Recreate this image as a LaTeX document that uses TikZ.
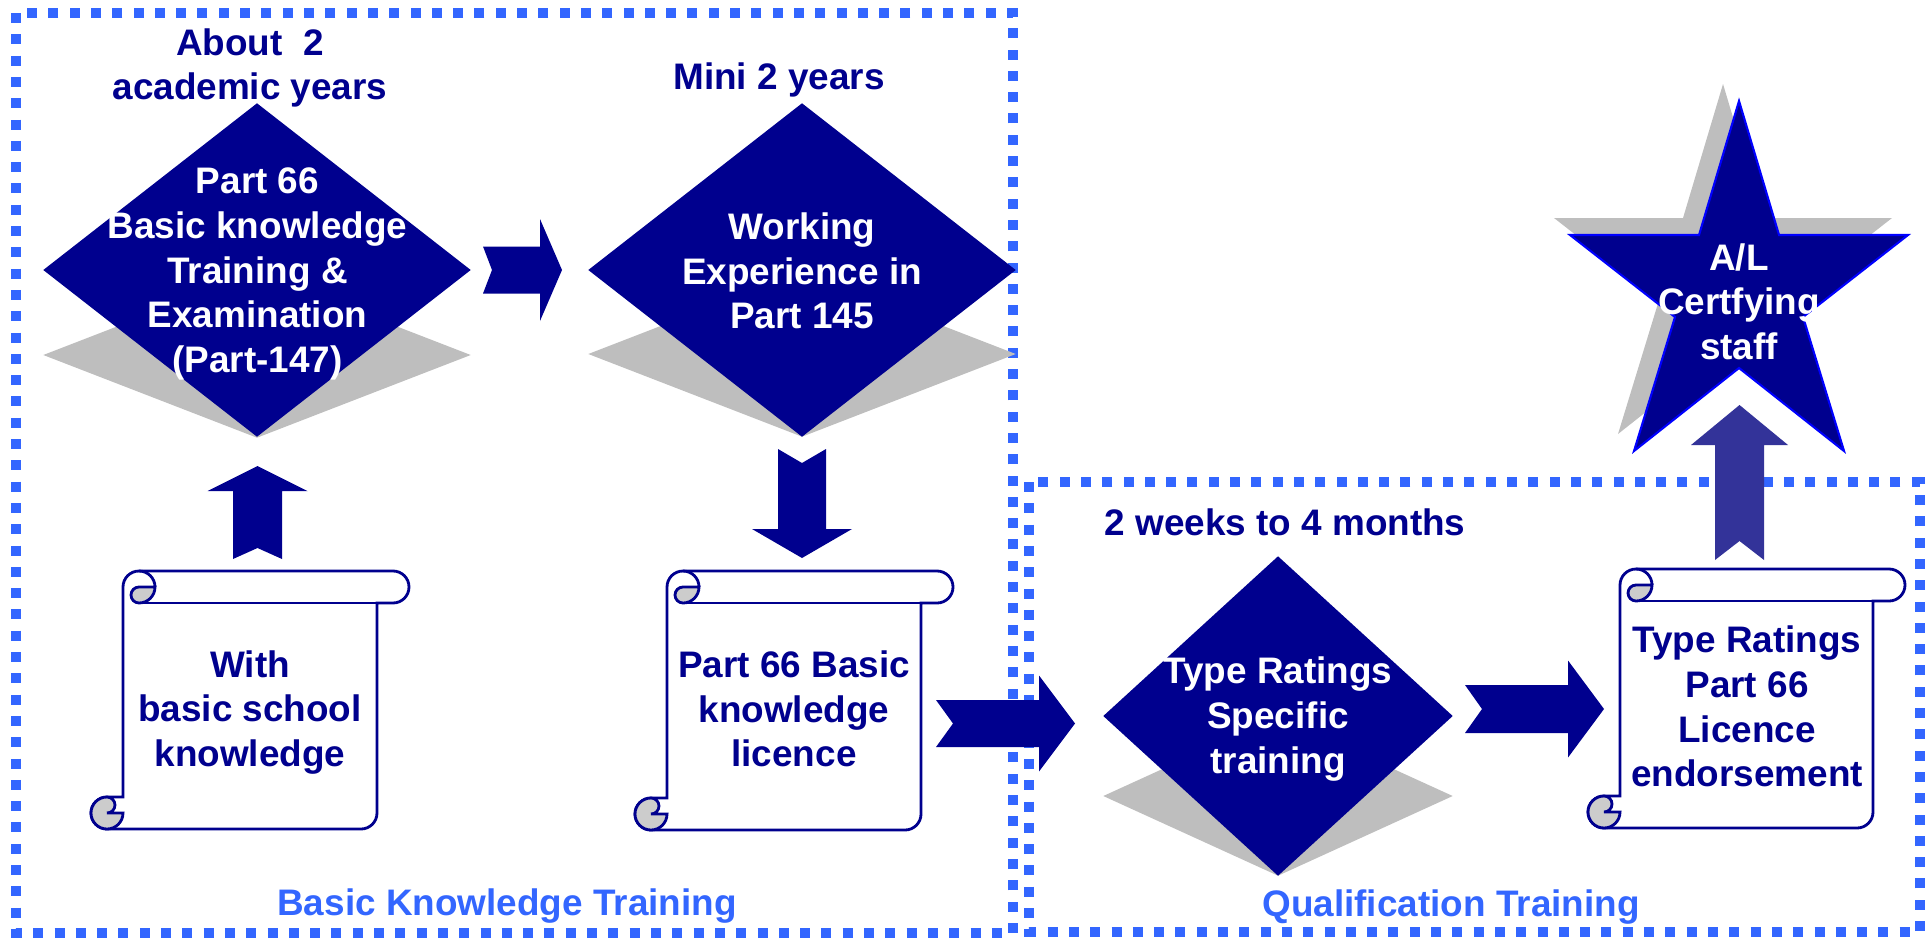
\documentclass[tikz,border=0pt]{standalone}
\usepackage{fontspec}
\setmainfont{Liberation Sans}
\usetikzlibrary{calc,shapes.geometric}

\definecolor{navyfill}{RGB}{0,0,142}
\definecolor{starline}{RGB}{0,0,255}
\definecolor{liftblue}{RGB}{51,51,153}
\definecolor{frameblue}{RGB}{51,102,255}
\definecolor{shadowgray}{RGB}{190,190,190}
\definecolor{curlgray}{RGB}{204,204,204}

\tikzset{
	boxtext/.style={font=\bfseries\fontsize{10.5}{12.7}\selectfont, align=center, inner sep=0pt},
	whitetext/.style={boxtext, text=white},
	navytext/.style={boxtext, text=navyfill},
	frametext/.style={boxtext, text=frameblue},
	diamondbox/.style={diamond, fill=navyfill, inner sep=0pt},
	shadowbox/.style={diamond, fill=shadowgray, inner sep=0pt},
	frameline/.style={draw=frameblue, line width=0.1cm, dash pattern=on 0.1cm off 0.113cm},
	scrollline/.style={draw=navyfill, line width=0.8pt},
}

\def\scroll(#1,#2)(#3,#4){%
	\filldraw[scrollline, fill=white] (#1+0.32,#4-0.32) -- (#1+0.32,#2+0.16) arc (180:270:0.16) -- (#3-0.16,#2) arc (270:450:0.16) -- (#3-0.32,#2+0.32) -- (#3-0.32,#4-0.16) arc (0:90:0.16) -- (#1+0.16,#4) arc (90:270:0.16) -- cycle;
	\draw[scrollline] (#1+0.48,#2+0.32) -- (#3-0.32,#2+0.32);
	\draw[scrollline] (#1+0.48,#2) arc (270:360:0.16);
	\filldraw[scrollline, fill=curlgray] (#1+0.64,#2+0.16) arc (0:90:0.16) arc (90:270:0.08) -- cycle;
	\filldraw[scrollline, fill=curlgray] (#1+0.32,#4-0.16) arc (0:270:0.16) arc (270:450:0.08) -- cycle;
}
\def\blockarrow[#1](#2)(#3)(#4:#5:#6:#7){%
	\fill[#1] ($(#2)!#4!90:(#3)$) -- ($(#2)!#7!(#3)$) -- ($(#2)!#4!-90:(#3)$) -- ($(#3)!#6!(#2)!#4!90:(#2)$) -- ($(#3)!#6!(#2)!#5!90:(#2)$) -- (#3) -- ($(#3)!#6!(#2)!#5!-90:(#2)$) -- ($(#3)!#6!(#2)!#4!-90:(#2)$) -- cycle;
}

\begin{document}
\begin{tikzpicture}[y=-1cm]
	%%%%% START %%%%%
	\useasboundingbox (0,0) rectangle (19.32,9.38);
	
	\draw[frameline] (0.16,0.13) rectangle (10.13,9.33);
	\draw[frameline] (10.29,4.82) rectangle (19.20,9.32);
	
	\node[shadowbox, minimum width=4.28cm, minimum height=1.66cm] (examshadow) at (2.57,3.55) {};
	\node[diamondbox, minimum width=4.28cm, minimum height=3.34cm] (exam) at (2.57,2.70) {};
	\node[shadowbox, minimum width=4.28cm, minimum height=1.66cm] (workshadow) at (8.02,3.54) {};
	\node[diamondbox, minimum width=4.28cm, minimum height=3.34cm] (work) at (8.02,2.70) {};
	\node[shadowbox, minimum width=3.50cm, minimum height=1.60cm] (typetrainshadow) at (12.78,7.96) {};
	\node[diamondbox, minimum width=3.50cm, minimum height=3.20cm] (typetrain) at (12.78,7.16) {};
	
	\fill[shadowgray, shift={(-0.16,-0.17)}] (17.39,1.01) -- (17.79,2.35) -- (19.08,2.35) -- (18.03,3.17) -- (18.44,4.51) -- (17.39,3.68) -- (16.34,4.51) -- (16.75,3.17) -- (15.70,2.35) -- (16.99,2.35) -- cycle;
	\filldraw[fill=navyfill, draw=starline, line width=0.6pt] (17.39,1.01) -- (17.79,2.35) -- (19.08,2.35) -- (18.03,3.17) -- (18.44,4.51) -- (17.39,3.68) -- (16.34,4.51) -- (16.75,3.17) -- (15.70,2.35) -- (16.99,2.35) -- cycle;
	
	\scroll(0.91,5.71)(4.09,8.29)
	\scroll(6.35,5.71)(9.53,8.30)
	\scroll(15.88,5.69)(19.05,8.28)
	
	\coordinate (examout) at (4.83,2.70);
	\coordinate (workin) at (5.62,2.70);
	\coordinate (schoolout) at (2.575,5.59);
	\coordinate (examin) at (2.575,4.66);
	\coordinate (workout) at (8.02,4.49);
	\coordinate (basiclicin) at (8.02,5.58);
	\coordinate (basiclicout) at (9.36,7.235);
	\coordinate (typetrainin) at (10.75,7.235);
	\coordinate (typetrainout) at (14.65,7.09);
	\coordinate (typelicin) at (16.04,7.09);
	\coordinate (typelicout) at (17.395,5.60);
	\coordinate (certin) at (17.395,4.05);
	
	\blockarrow[navyfill](examout)(workin)(0.235cm:0.51cm:0.22cm:0.09cm)
	\blockarrow[navyfill](schoolout)(examin)(0.245cm:0.50cm:0.25cm:0.11cm)
	\blockarrow[navyfill](workout)(basiclicin)(0.24cm:0.50cm:0.29cm:0.14cm)
	\blockarrow[navyfill](basiclicout)(typetrainin)(0.235cm:0.48cm:0.36cm:0.17cm)
	\blockarrow[navyfill](typetrainout)(typelicin)(0.24cm:0.485cm:0.36cm:0.17cm)
	\blockarrow[liftblue](typelicout)(certin)(0.245cm:0.485cm:0.40cm:0.19cm)
	
	\node[whitetext] (examtext) at (2.575,2.74) {Part 66\\Basic knowledge\\Training \&\\Examination\\(Part-147)};
	\node[whitetext] (worktext) at (8.02,2.71) {Working\\Experience in\\Part 145};
	\node[whitetext] (typetraintext) at (12.78,7.19) {Type Ratings\\Specific\\training};
	\node[whitetext] (certstaff) at (17.39,3.015) {A/L\\Certfying\\staff};
	\node[navytext] (school) at (2.50,7.125) {With\\basic school\\knowledge};
	\node[navytext] (basiclic) at (7.94,7.09) {Part 66 Basic\\knowledge\\licence};
	\node[navytext] (typelic) at (17.47,7.065) {Type Ratings\\Part 66\\Licence\\endorsement};
	
	\node[navytext] (aboutlbl) at (2.50,0.68) {About\ \ 2\\academic years};
	\node[navytext] (minilbl) at (7.79,0.797) {Mini 2 years};
	\node[navytext] (weekslbl) at (12.85,5.225) {2 weeks to 4 months};
	\node[frametext] (basiclbl) at (5.07,9.056) {Basic Knowledge Training};
	\node[frametext] (quallbl) at (14.51,9.07) {Qualification Training};
	
	%%%%% END %%%%%
\end{tikzpicture}
\end{document}
